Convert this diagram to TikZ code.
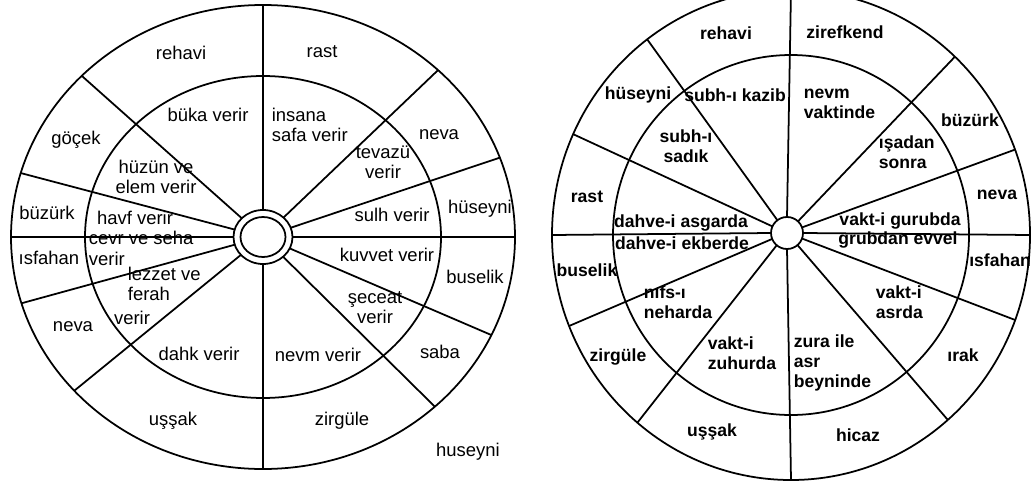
\documentclass[tikz,border=0pt]{standalone}
\usepackage{fontspec}
\setmainfont{Liberation Sans}
\usetikzlibrary{calc}

\begin{document}
\begin{tikzpicture}[x=0.02cm, y=0.02cm, line width=1pt,
    leftLabel/.style={font=\fontsize{10.5}{11.5}\selectfont, inner sep=0pt},
    rightLabel/.style={font=\fontsize{10}{11.5}\selectfont\bfseries, inner sep=0pt}]

    \clip (0,0) rectangle (1033,484);

    % Draw left wheel
    \coordinate (L) at (263,247);
    \draw (L) ellipse [x radius=252, y radius=232];
    \draw (L) ellipse [x radius=178, y radius=161];
    \draw (L) ellipse [x radius=29.5, y radius=27];
    \draw (L) ellipse [x radius=22.5, y radius=20];
    \foreach \a in {90,46,20,0,-25,-47,-90,-138.5,-163.4,180,164,136}
        \draw ($(L)+(\a:29.5 and 27)$) -- ($(L)+(\a:252 and 232)$);

    % Draw right wheel
    \coordinate (R) at (787,251);
    \coordinate (R0) at (791,249);
    \draw (R0) ellipse [x radius=239, y radius=245];
    \draw (R0) ellipse [x radius=178, y radius=180];
    \draw (R) circle [radius=16];
    \foreach \a in {90,46.7,20.4,0,-20.3,-49,-90,-130,-158.2,180,155.7,127}
        \draw ($(R)+(\a:16)$) -- ($(R0)+(\a:239 and 245)$);

    % Left outer ring
    \node[leftLabel] (lRehavi) at (181,431) {rehavi};
    \node[leftLabel] (lRast) at (322,432) {rast};
    \node[leftLabel] (lNevaA) at (439,349) {neva};
    \node[leftLabel] (lGocek) at (76,344) {göçek};
    \node[leftLabel] (lBuzurk) at (47,271) {büzürk};
    \node[leftLabel] (lHuseyniA) at (480,275) {hüseyni};
    \node[leftLabel] (lIsfahan) at (49,226) {ısfahan};
    \node[leftLabel] (lBuselik) at (475,207) {buselik};
    \node[leftLabel] (lNevaB) at (73,157) {neva};
    \node[leftLabel] (lSaba) at (440,132) {saba};
    \node[leftLabel] (lUssak) at (173,63) {uşşak};
    \node[leftLabel] (lZirgule) at (342,63) {zirgüle};
    \node[leftLabel] (lHuseyniB) at (468,32) {huseyni};

    % Left inner ring
    \node[leftLabel] (lBuka) at (208,369) {büka verir};
    \node[leftLabel, anchor=west, align=left] (lInsana) at (271,359) {insana\\safa verir};
    \node[leftLabel, align=center] (lTevazu) at (383,322) {tevazü\\verir};
    \node[leftLabel, align=center] (lHuzun) at (156,307) {hüzün ve\\elem verir};
    \node[leftLabel] (lHavf) at (135,266) {havf verir};
    \node[leftLabel] (lSulh) at (392,269) {sulh verir};
    \node[leftLabel, anchor=west, align=left] (lCevr) at (88,235.5) {cevr ve seha\\verir};
    \node[leftLabel] (lKuvvet) at (387,229) {kuvvet verir};
    \node[leftLabel, anchor=west, align=left] (lLezzet) at (127,200) {lezzet ve\\ferah};
    \node[leftLabel] (lVerir) at (132,166) {verir};
    \node[leftLabel, align=center] (lSeceat) at (375,176) {şeceat\\verir};
    \node[leftLabel] (lDahk) at (199,130) {dahk verir};
    \node[leftLabel] (lNevm) at (318,129) {nevm verir};

    % Right outer ring
    \node[rightLabel] (rRehavi) at (726,451) {rehavi};
    \node[rightLabel] (rZirefkend) at (845,452) {zirefkend};
    \node[rightLabel] (rHuseyni) at (638,389) {hüseyni};
    \node[rightLabel] (rBuzurk) at (970,364) {büzürk};
    \node[rightLabel] (rRast) at (587,287) {rast};
    \node[rightLabel] (rNeva) at (997,289) {neva};
    \node[rightLabel] (rBuselik) at (587,214) {buselik};
    \node[rightLabel] (rIsfahan) at (1000,224) {ısfahan};
    \node[rightLabel] (rZirgule) at (618,127) {zirgüle};
    \node[rightLabel] (rIrak) at (963,129) {ırak};
    \node[rightLabel] (rUssak) at (712,52) {uşşak};
    \node[rightLabel] (rHicaz) at (858,49) {hicaz};

    % Right inner ring
    \node[rightLabel] (rKazib) at (735,389) {subh-ı kazib};
    \node[rightLabel, anchor=west, align=left] (rNevm) at (803,380) {nevm\\vaktinde};
    \node[rightLabel, align=center] (rSadik) at (686,338) {subh-ı\\sadık};
    \node[rightLabel, anchor=west, align=left] (rIsadan) at (878,332) {ışadan\\sonra};
    \node[rightLabel] (rAsgar) at (681,261) {dahve-i asgarda};
    \node[rightLabel] (rEkber) at (682,241) {dahve-i ekberde};
    \node[rightLabel] (rGurub) at (900,263) {vakt-i gurubda};
    \node[rightLabel] (rEvvel) at (898,244) {grubdan evvel};
    \node[rightLabel, anchor=west, align=left] (rNehar) at (643,181.5) {nıfs-ı\\neharda};
    \node[rightLabel, anchor=west, align=left] (rAsr) at (875,182) {vakt-i\\asrda};
    \node[rightLabel, anchor=west, align=left] (rZuhur) at (707,131) {vakt-i\\zuhurda};
    \node[rightLabel, anchor=west, align=left] (rZura) at (793,121) {zura ile\\asr\\beyninde};

\end{tikzpicture}
\end{document}
